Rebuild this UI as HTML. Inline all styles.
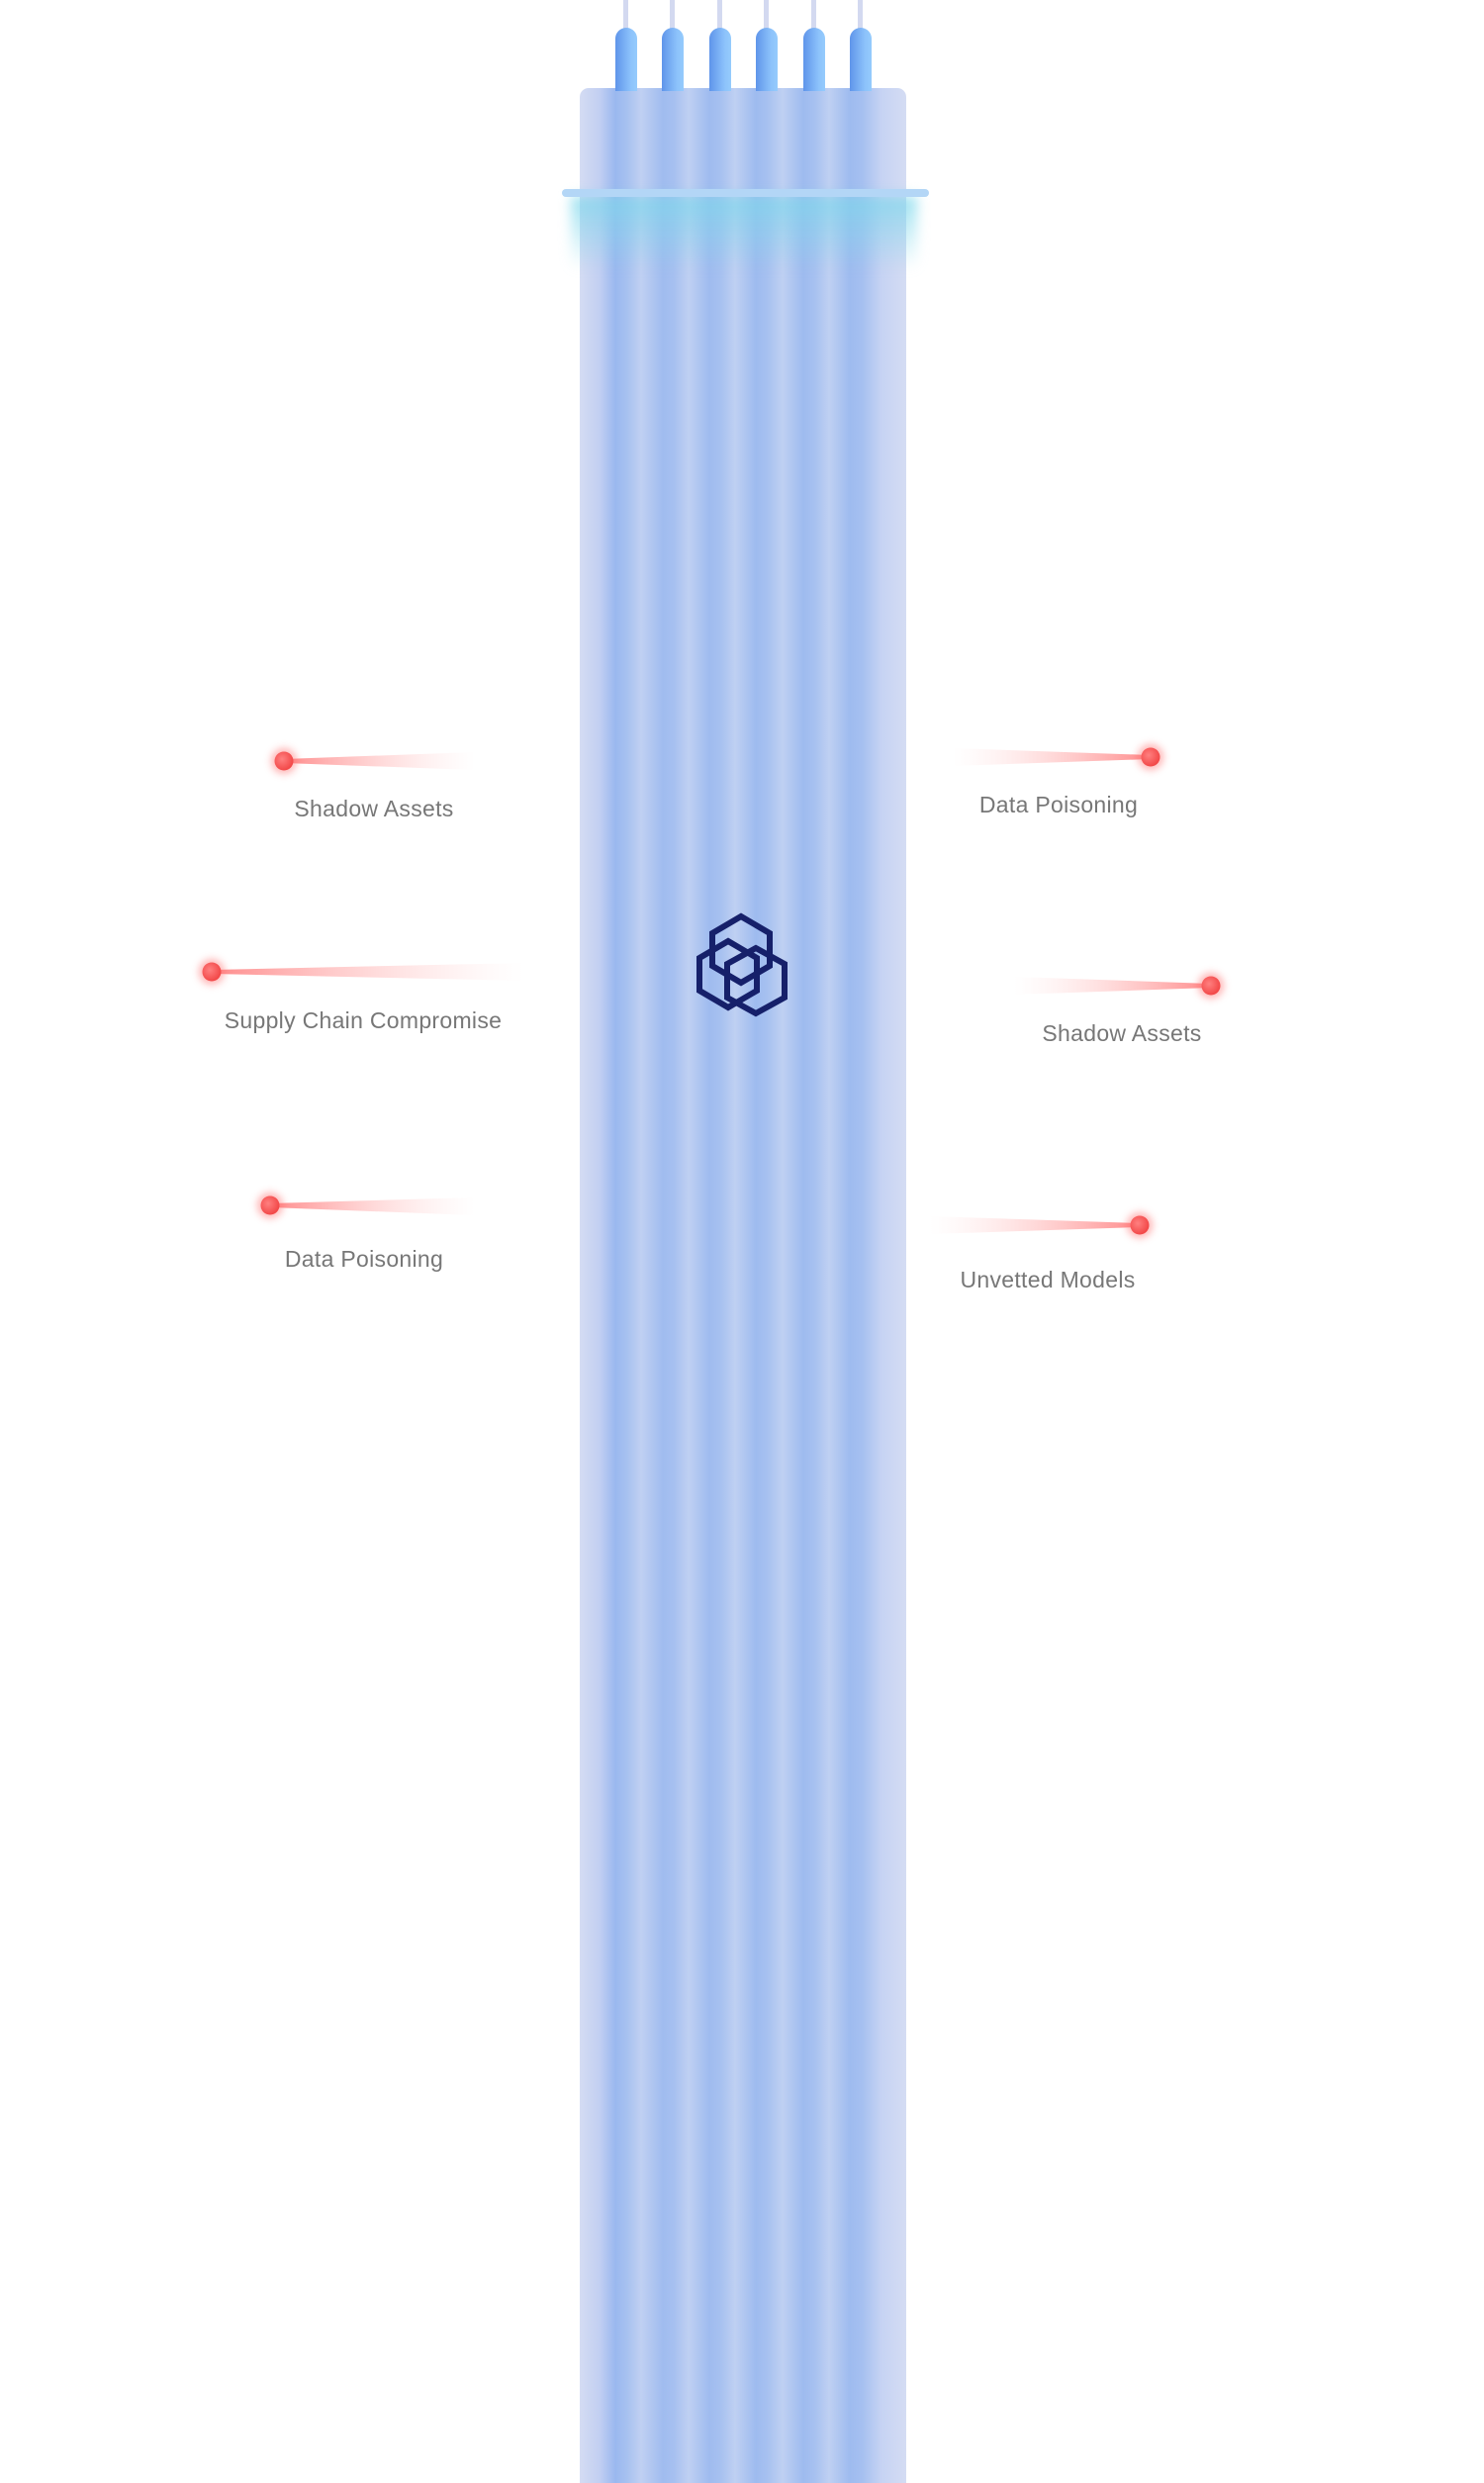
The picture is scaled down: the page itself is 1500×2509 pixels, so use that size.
<!DOCTYPE html>
<html><head><meta charset="utf-8"><style>
html,body{margin:0;padding:0;background:#fff;}
body{width:1500px;height:2500px;position:relative;overflow:hidden;font-family:"Liberation Sans",sans-serif;}
.col{position:absolute;left:586px;top:89px;width:330px;height:2420px;border-radius:9px 9px 0 0;
background:linear-gradient(90deg,#d4dcf3 0px,#c2cff2 20px,#9ab8ef 36px,#a7c1f0 48px,#c0d0f2 62px,#a0bcef 84px,#a6c0f0 95px,#bfd0f2 110px,#9fbbef 131px,#a7c1f0 143px,#bfd0f2 157px,#9ebbef 178px,#a7c1f0 190px,#bfd0f2 205px,#9ebbef 226px,#a7c1f0 238px,#bfd0f2 252px,#9ebbef 273px,#a6c0f0 286px,#c6d3f3 305px,#d4dcf3 330px);}
.pin{position:absolute;top:28px;width:22px;height:64px;border-radius:11px 11px 0 0;background:linear-gradient(90deg,#5f95ea,#8cc2fb 70%,#95cbfc);}
.wire{position:absolute;top:0;width:5px;height:30px;background:#d3d9f0;}
.band{position:absolute;left:568px;top:191px;width:371px;height:8px;border-radius:4px;background:#b3d6f6;}
.glow{position:absolute;left:577px;top:198px;width:350px;height:75px;background:linear-gradient(180deg,rgba(125,215,235,.75),rgba(160,220,240,0));filter:blur(6px);}
.lbl{position:absolute;font-size:23px;letter-spacing:0.3px;line-height:28px;color:#777;white-space:nowrap;transform:translate(-50%,-50%);}
</style></head><body>
<div class="col"></div>
<div class="glow"></div>
<div class="band"></div>
<div class="wire" style="left:630px"></div><div class="wire" style="left:677px"></div><div class="wire" style="left:725px"></div><div class="wire" style="left:772px"></div><div class="wire" style="left:820px"></div><div class="wire" style="left:867px"></div>
<div class="pin" style="left:622px"></div><div class="pin" style="left:669px"></div><div class="pin" style="left:717px"></div><div class="pin" style="left:764px"></div><div class="pin" style="left:812px"></div><div class="pin" style="left:859px"></div>

<svg width="1500" height="2500" style="position:absolute;left:0;top:0">
<defs>
<linearGradient id="gl" x1="0" x2="1" y1="0" y2="0"><stop offset="0" stop-color="#ff8a8a"/><stop offset="1" stop-color="#ffdada" stop-opacity="0"/></linearGradient>
<linearGradient id="gr" x1="1" x2="0" y1="0" y2="0"><stop offset="0" stop-color="#ff8a8a"/><stop offset="1" stop-color="#ffdada" stop-opacity="0"/></linearGradient>
<radialGradient id="dot" cx=".4" cy=".4" r=".6"><stop offset="0" stop-color="#ff8080"/><stop offset="1" stop-color="#f24848"/></radialGradient>
<filter id="bl" x="-1" y="-1" width="3" height="3"><feGaussianBlur stdDeviation="4"/></filter>
</defs>
<polygon points="287,767 480,760 480,778 287,771" fill="url(#gl)"/>
<polygon points="214,980 530,973 530,991 214,984" fill="url(#gl)"/>
<polygon points="273,1216 480,1210 480,1228 273,1220" fill="url(#gl)"/>
<polygon points="1163,763 963,756 963,774 1163,767" fill="url(#gr)"/>
<polygon points="1224,994 1025,987 1025,1005 1224,998" fill="url(#gr)"/>
<polygon points="1152,1236 940,1229 940,1247 1152,1240" fill="url(#gr)"/>
<g>
<circle cx="287" cy="769" r="13" fill="#ff6b6b" opacity=".5" filter="url(#bl)"/><circle cx="287" cy="769" r="9.5" fill="url(#dot)"/>
<circle cx="214" cy="982" r="13" fill="#ff6b6b" opacity=".5" filter="url(#bl)"/><circle cx="214" cy="982" r="9.5" fill="url(#dot)"/>
<circle cx="273" cy="1218" r="13" fill="#ff6b6b" opacity=".5" filter="url(#bl)"/><circle cx="273" cy="1218" r="9.5" fill="url(#dot)"/>
<circle cx="1163" cy="765" r="13" fill="#ff6b6b" opacity=".5" filter="url(#bl)"/><circle cx="1163" cy="765" r="9.5" fill="url(#dot)"/>
<circle cx="1224" cy="996" r="13" fill="#ff6b6b" opacity=".5" filter="url(#bl)"/><circle cx="1224" cy="996" r="9.5" fill="url(#dot)"/>
<circle cx="1152" cy="1238" r="13" fill="#ff6b6b" opacity=".5" filter="url(#bl)"/><circle cx="1152" cy="1238" r="9.5" fill="url(#dot)"/>
</g>
<g fill="none" stroke="#16206a" stroke-width="6" stroke-linejoin="miter">
<polygon points="749,926 778,943 778,976 749,993 720,976 720,943"/>
<polygon points="736,951 765,968 765,1001 736,1018 707,1001 707,968"/>
<polygon points="764,958 793,974 793,1008 764,1024 735,1008 735,974"/>
</g>
</svg>

<div class="lbl" style="left:378px;top:817px">Shadow Assets</div>
<div class="lbl" style="left:367px;top:1031px">Supply Chain Compromise</div>
<div class="lbl" style="left:368px;top:1272px">Data Poisoning</div>
<div class="lbl" style="left:1070px;top:813px">Data Poisoning</div>
<div class="lbl" style="left:1134px;top:1044px">Shadow Assets</div>
<div class="lbl" style="left:1059px;top:1293px">Unvetted Models</div>
</body></html>
